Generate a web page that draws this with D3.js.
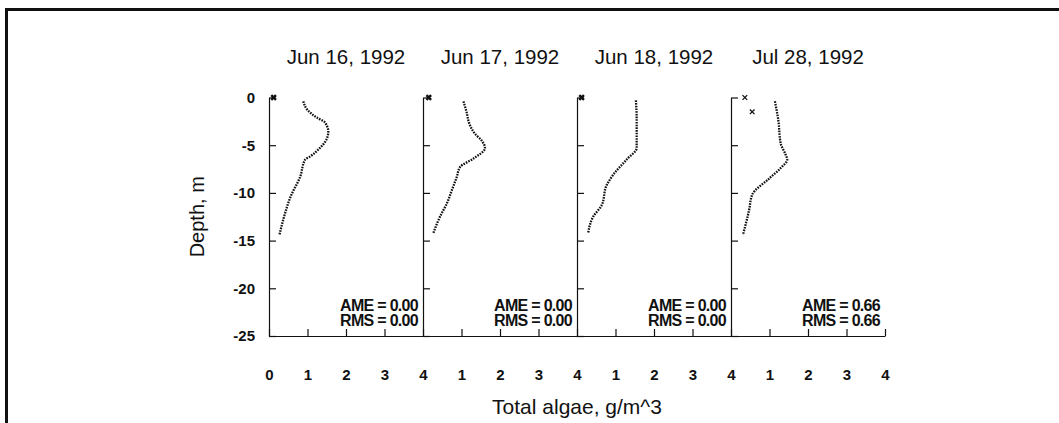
<!DOCTYPE html>
<html>
<head>
<meta charset="utf-8">
<script src="https://cdn.jsdelivr.net/npm/d3@7"></script>
<style>
  html, body { margin: 0; padding: 0; background: #fff; }
  svg { display: block; }
  text { font-family: "Liberation Sans", Arial, sans-serif; fill: #111; }
</style>
</head>
<body>
<svg id="chart" width="1059" height="423"></svg>
<script>
// ---- data ----
const panelTitles = ["Jun 16, 1992", "Jun 17, 1992", "Jun 18, 1992", "Jul 28, 1992"];
const ameValues = ["0.00", "0.00", "0.00", "0.66"];
const rmsValues = ["0.00", "0.00", "0.00", "0.66"];
const depthTicks = [0, -5, -10, -15, -20, -25];
const algaeTicksFirst = [0, 1, 2, 3, 4];
const algaeTicksOther = [1, 2, 3, 4];

// modelled profiles (algae g/m^3 vs depth m)
const profileAlgae1 = [0.89, 1.00, 1.24, 1.45, 1.54, 1.48, 1.32, 1.06, 0.94, 0.81, 0.56, 0.42, 0.27];
const profileDepth1 = [-0.4, -1.3, -2.1, -2.6, -3.6, -4.5, -5.3, -6.2, -6.5, -8.3, -10.4, -12.1, -14.4];
const profileAlgae2 = [1.05, 1.13, 1.20, 1.35, 1.52, 1.61, 1.31, 0.96, 0.88, 0.75, 0.62, 0.44, 0.27];
const profileDepth2 = [-0.4, -1.5, -2.7, -3.8, -4.5, -5.3, -6.4, -7.3, -8.3, -9.7, -11.1, -12.5, -14.2];
const profileAlgae3 = [1.53, 1.55, 1.55, 1.29, 0.94, 0.77, 0.64, 0.42, 0.29];
const profileDepth3 = [-0.3, -2.4, -5.3, -6.5, -8.1, -9.2, -11.3, -12.5, -14.2];
const profileAlgae4 = [1.14, 1.23, 1.29, 1.42, 1.46, 1.29, 0.99, 0.55, 0.47, 0.31];
const profileDepth4 = [-0.4, -2.4, -4.8, -6.0, -6.5, -7.4, -8.5, -10.2, -11.8, -14.4];

// observations
const obsAlgae1 = [0.12], obsDepth1 = [0];
const obsAlgae2 = [0.15], obsDepth2 = [0];
const obsAlgae3 = [0.12], obsDepth3 = [0];
const obsAlgae4 = [0.36, 0.55], obsDepth4 = [0, -1.5];

const profilesA = [profileAlgae1, profileAlgae2, profileAlgae3, profileAlgae4];
const profilesD = [profileDepth1, profileDepth2, profileDepth3, profileDepth4];
const obsA = [obsAlgae1, obsAlgae2, obsAlgae3, obsAlgae4];
const obsD = [obsDepth1, obsDepth2, obsDepth3, obsDepth4];

// ---- layout ----
const svg = d3.select("#chart");
const left0 = 269, panelW = 154, plotTop = 97.5, plotBottom = 336;
const ink = "#111";

// outer frame (top and left edges)
svg.append("line").attr("x1", 5).attr("x2", 1059).attr("y1", 9.5).attr("y2", 9.5)
  .attr("stroke", ink).attr("stroke-width", 3);
svg.append("line").attr("x1", 6.5).attr("x2", 6.5).attr("y1", 8).attr("y2", 423)
  .attr("stroke", ink).attr("stroke-width", 3);

const y = d3.scaleLinear().domain([-25, 0]).range([plotBottom, plotTop]);

// "x" shaped symbol
const symX = {
  draw(ctx, size) {
    const r = Math.sqrt(size) / 2;
    ctx.moveTo(-r, -r); ctx.lineTo(r, r);
    ctx.moveTo(-r, r); ctx.lineTo(r, -r);
  }
};

panelTitles.forEach((title, i) => {
  const x0 = left0 + i * panelW;
  const x = d3.scaleLinear().domain([0, 4]).range([x0, x0 + panelW]);
  const g = svg.append("g");

  // y axis (ticks point inward)
  const yAxis = d3.axisLeft(y).tickValues(depthTicks).tickSizeInner(-7).tickSizeOuter(0)
    .tickPadding(14).tickFormat(i === 0 ? (d => String(d)) : () => "");
  const yg = g.append("g").attr("transform", `translate(${x0},0)`).call(yAxis);

  // x axis (ticks point upward)
  const xAxis = d3.axisBottom(x).tickValues(i === 0 ? algaeTicksFirst : algaeTicksOther)
    .tickSizeInner(-7).tickSizeOuter(0).tickPadding(33).tickFormat(d => String(d));
  const xg = g.append("g").attr("transform", `translate(0,${plotBottom})`).call(xAxis);

  [yg, xg].forEach(ax => {
    ax.selectAll("path, line").attr("stroke", ink).attr("stroke-width", 1.2);
    ax.selectAll("text").attr("font-size", 15).attr("font-weight", "bold")
      .attr("font-family", "'Liberation Sans', Arial, sans-serif").attr("fill", ink);
  });

  // title
  g.append("text").attr("x", x0 + panelW / 2).attr("y", 64).attr("text-anchor", "middle")
    .attr("font-size", 20.5).text(title);

  // modelled profile (dotted)
  const pts = profilesA[i].map((a, k) => [a, profilesD[i][k]]);
  const line = d3.line().x(d => x(d[0])).y(d => y(d[1])).curve(d3.curveMonotoneY);
  g.append("path").attr("d", line(pts)).attr("fill", "none").attr("stroke", ink)
    .attr("stroke-width", 2.3).attr("stroke-dasharray", "1.6,1.1");

  // observations
  const sym = d3.symbol().type(symX).size(i === 3 ? 22 : 22);
  obsA[i].forEach((a, k) => {
    g.append("path").attr("d", sym())
      .attr("transform", `translate(${x(a)},${y(obsD[i][k])})`)
      .attr("fill", "none").attr("stroke", ink)
      .attr("stroke-width", i === 3 ? 1.3 : 2.4);
  });

  // stats
  const tx = x0 + panelW - 5;
  g.append("text").attr("x", tx).attr("y", 311).attr("text-anchor", "end")
    .attr("font-size", 16).attr("font-weight", "bold").attr("letter-spacing", -0.7)
    .text(`AME = ${ameValues[i]}`);
  g.append("text").attr("x", tx).attr("y", 326).attr("text-anchor", "end")
    .attr("font-size", 16).attr("font-weight", "bold").attr("letter-spacing", -0.7)
    .text(`RMS = ${rmsValues[i]}`);
});

// axis titles
svg.append("text").attr("x", left0 + 2 * panelW).attr("y", 414).attr("text-anchor", "middle")
  .attr("font-size", 21).text("Total algae, g/m^3");
svg.append("text").attr("transform", `translate(204,${(plotTop + plotBottom) / 2}) rotate(-90)`)
  .attr("text-anchor", "middle").attr("font-size", 20).text("Depth, m");
</script>
</body>
</html>
